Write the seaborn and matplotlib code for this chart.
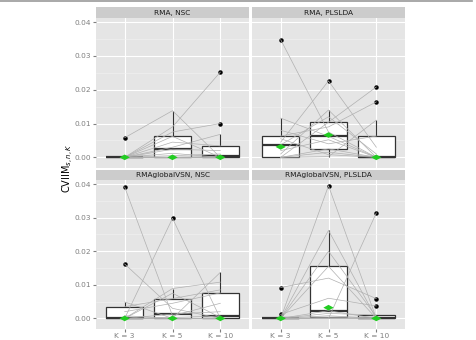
import numpy as np
import pandas as pd
import seaborn as sns
import matplotlib.pyplot as plt
from matplotlib.lines import Line2D
from matplotlib.ticker import MultipleLocator

# valores por conjunto de dados (mesma ordem de datasets em K=3, K=5, K=10)
panels = ["RMA, NSC", "RMA, PLSLDA", "RMAglobalVSN, NSC", "RMAglobalVSN, PLSLDA"]
k_labels = ["K = 3", "K = 5", "K = 10"]

rma_nsc_k3 = [0.0058, 0, 0, 0, 0, 0, 0, 0, 0, 0, 0, 0, 0]
rma_nsc_k5 = [0.0138, 0.0090, 0.0062, 0.0075, 0.0045, 0.0030, 0.0024, 0.0012, 0.0005, 0, 0, 0, 0]
rma_nsc_k10 = [0, 0.0252, 0, 0.0100, 0.0034, 0.0068, 0.0020, 0, 0.0010, 0.0003, 0, 0, 0]

rma_pls_k3 = [0.0348, 0.0045, 0, 0.0063, 0.0116, 0, 0.0010, 0.0080, 0.0020, 0, 0.0037, 0.0055, 0]
rma_pls_k5 = [0.0075, 0.0226, 0.0104, 0.0090, 0.0062, 0.0002, 0.0140, 0.0040, 0.0052, 0.0015, 0.0120, 0.0008, 0.0025]
rma_pls_k10 = [0, 0.0030, 0.0208, 0.0164, 0, 0.0110, 0, 0.0063, 0, 0, 0.0010, 0, 0]

vsn_nsc_k3 = [0.0391, 0, 0.0162, 0.0049, 0, 0.0035, 0, 0.0020, 0, 0.0008, 0, 0, 0]
vsn_nsc_k5 = [0.0008, 0.0298, 0.0030, 0, 0.0089, 0.0059, 0.0075, 0.0045, 0.0013, 0, 0.0003, 0, 0]
vsn_nsc_k10 = [0.0045, 0, 0, 0.0137, 0.0108, 0.0085, 0.0003, 0.0076, 0.0020, 0, 0.0007, 0, 0]

vsn_pls_k3 = [0, 0, 0.0092, 0.0012, 0, 0, 0, 0, 0, 0, 0, 0, 0]
vsn_pls_k5 = [0.0395, 0.0262, 0.0120, 0.0060, 0, 0.0155, 0.0200, 0.0023, 0.0015, 0.0008, 0.0003, 0, 0]
vsn_pls_k10 = [0, 0, 0.0059, 0.0037, 0.0314, 0, 0.0005, 0, 0.0010, 0, 0.0002, 0, 0]

# losangos verdes (estimativa global)
global_est = {
    "RMA, NSC": [0, 0, 0],
    "RMA, PLSLDA": [0.0031, 0.0066, 0],
    "RMAglobalVSN, NSC": [0, 0, 0],
    "RMAglobalVSN, PLSLDA": [0, 0.0032, 0],
}

series = {
    "RMA, NSC": [rma_nsc_k3, rma_nsc_k5, rma_nsc_k10],
    "RMA, PLSLDA": [rma_pls_k3, rma_pls_k5, rma_pls_k10],
    "RMAglobalVSN, NSC": [vsn_nsc_k3, vsn_nsc_k5, vsn_nsc_k10],
    "RMAglobalVSN, PLSLDA": [vsn_pls_k3, vsn_pls_k5, vsn_pls_k10],
}

rows = []
for p in panels:
    for ki, vals in enumerate(series[p]):
        for d, v in enumerate(vals):
            rows.append({"panel": p, "K": k_labels[ki], "kpos": ki, "dataset": d, "cviim": v})
df = pd.DataFrame(rows)

W, H = 476, 340
fig = plt.figure(figsize=(W / 100, H / 100), dpi=100)

# posições em pixels: (esquerda, topo da faixa, base do painel)
pw = 153
lefts = [96, 252]
tops = [(7, 18, 167.5), (169.5, 180, 328.5)]

diamond = [(-1, 0), (0, 0.55), (1, 0), (0, -0.55), (-1, 0)]

for i, p in enumerate(panels):
    r, c = divmod(i, 2)
    x0 = lefts[c]
    st, pt, pb = tops[r]
    ax = fig.add_axes([x0 / W, 1 - pb / H, pw / W, (pb - pt) / H])
    sax = fig.add_axes([x0 / W, 1 - pt / H, pw / W, (pt - st) / H])

    sax.set_facecolor("#CCCCCC")
    sax.set_xticks([]); sax.set_yticks([])
    for s in sax.spines.values():
        s.set_visible(False)
    sax.text(0.5, 0.45, p, ha="center", va="center", fontsize=5.3, color="#1A1A1A")

    ax.set_facecolor("#E5E5E5")
    sub = df[df["panel"] == p]

    sns.boxplot(data=sub, x="K", y="cviim", order=k_labels, ax=ax, width=0.77,
                showcaps=False, whis=1.5,
                boxprops=dict(facecolor="white", edgecolor="#333333", linewidth=0.9, zorder=2),
                whiskerprops=dict(color="#333333", linewidth=0.8),
                medianprops=dict(color="#333333", linewidth=1.6),
                flierprops=dict(marker="o", markerfacecolor="black", markeredgecolor="black",
                                markersize=2.2))

    sns.lineplot(data=sub, x="kpos", y="cviim", units="dataset", estimator=None, ax=ax,
                 color="#B0B0B0", linewidth=0.5, zorder=2.5, legend=False)

    ax.scatter(range(3), global_est[p], marker=diamond, s=55, color="#22CC22",
               edgecolor="none", zorder=5)

    ax.set_xlim(-0.6, 2.6)
    ax.set_ylim(-0.003, 0.0412)
    ax.yaxis.set_major_locator(MultipleLocator(0.01))
    ax.yaxis.set_minor_locator(MultipleLocator(0.005))
    ax.grid(True, which="major", color="white", linewidth=0.8)
    ax.grid(True, which="minor", axis="y", color="#F2F2F2", linewidth=0.4)
    ax.set_axisbelow(True)
    for s in ax.spines.values():
        s.set_visible(False)
    ax.set_xlabel("")
    ax.set_ylabel("")

    ax.set_xticks(range(3))
    ax.set_yticks([0, 0.01, 0.02, 0.03, 0.04])
    if r == 1:
        ax.set_xticklabels(k_labels)
        ax.tick_params(axis="x", length=2, color="#7F7F7F", labelsize=5.3,
                       labelcolor="#7F7F7F", pad=1.5)
    else:
        ax.tick_params(axis="x", length=0, labelbottom=False)
    if c == 0:
        ax.set_yticklabels(["0.00", "0.01", "0.02", "0.03", "0.04"])
        ax.tick_params(axis="y", length=2, color="#7F7F7F", labelsize=5.3,
                       labelcolor="#7F7F7F", pad=1.5)
    else:
        ax.tick_params(axis="y", length=0, labelleft=False)
    ax.tick_params(which="minor", length=0)

fig.text(68 / W, 1 - 168 / H, r"CVIIM$_{s,n,K}$", rotation=90, ha="center", va="center",
         fontsize=7, color="black")

fig.add_artist(Line2D([0, 472 / W], [1 - 0.8 / H, 1 - 0.8 / H], color="#999999", linewidth=1.2))

fig.savefig("out.png", dpi=100)
